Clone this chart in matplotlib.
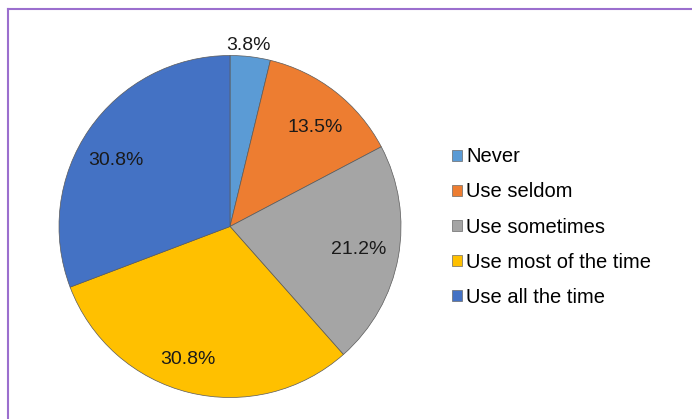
import numpy as np
import matplotlib
matplotlib.use('Agg')
import matplotlib.pyplot as plt
from matplotlib.patches import Patch
from matplotlib.lines import Line2D

plt.rcParams['font.family'] = ['Liberation Sans', 'DejaVu Sans']

labels = ['Never', 'Use seldom', 'Use sometimes', 'Use most of the time', 'Use all the time']
values = [3.8, 13.5, 21.2, 30.8, 30.8]
colors = ['#5B9BD5', '#ED7D31', '#A5A5A5', '#FFC000', '#4472C4']

W, H = 692, 419
fig = plt.figure(figsize=(W / 100, H / 100), dpi=100)

# purple frame (top and left edges visible)
fig.add_artist(Line2D([8 / W, 8 / W], [0, 1 - 9 / H], color='#9b6fce', lw=1.5))
fig.add_artist(Line2D([8 / W, 1], [1 - 9 / H, 1 - 9 / H], color='#9b6fce', lw=1.5))

cx, cy, r = 230, 226.5, 171
ax = fig.add_axes([(cx - r) / W, (H - cy - r) / H, 2 * r / W, 2 * r / H])
wedges, texts, autotexts = ax.pie(values, colors=colors, startangle=90, counterclock=False,
                                  autopct='%1.1f%%', pctdistance=0.78,
                                  wedgeprops=dict(edgecolor='#5a5a5a', linewidth=0.5),
                                  textprops=dict(fontsize=14, color='#1a1a1a'))
# label placement tweaks (distance, angle offset) to follow the original
tweaks = [(1.08, 1.2), (0.775, -1.9), (0.76, 1.1), (0.80, -3.9), (0.78, 3.7)]
for w, t, (d, off) in zip(wedges, autotexts, tweaks):
    a = np.deg2rad((w.theta1 + w.theta2) / 2 + off)
    t.set_position((d * np.cos(a), d * np.sin(a) - 0.015))
ax.set_xlim(-1, 1)
ax.set_ylim(-1, 1)
ax.set_aspect('equal')
ax.axis('off')

handles = [Patch(facecolor=c, edgecolor='#6a6a6a', linewidth=0.5) for c in colors]
fig.legend(handles, labels, loc='center left', bbox_to_anchor=(434 / W, 1 - 227 / H),
           frameon=False, fontsize=14.5, handlelength=0.48, handleheight=0.48,
           handletextpad=0.22, labelspacing=0.8)

fig.savefig('out.png', dpi=100)
